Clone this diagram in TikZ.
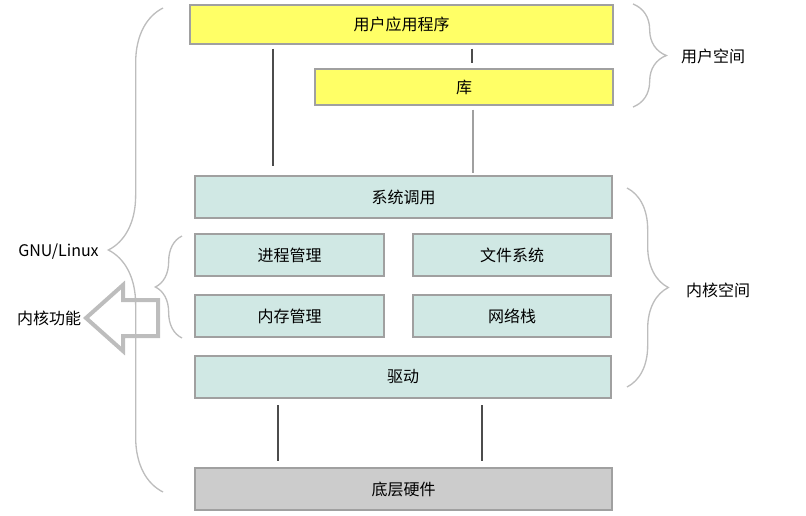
\documentclass[tikz,border=0pt]{standalone}
\usepackage{fontspec}
\setmainfont{Noto Sans CJK SC}
\usepackage{xcolor}
\usetikzlibrary{shapes,arrows,positioning,calc,decorations.pathreplacing}

\definecolor{userfill}{HTML}{FFFF66}
\definecolor{kernfill}{HTML}{D0E8E4}
\definecolor{hwfill}{HTML}{CCCCCC}
\definecolor{boxline}{HTML}{A0A0A0}
\definecolor{bracegray}{HTML}{BDBDBD}

\begin{document}
\begin{tikzpicture}[x=0.75pt, y=-0.75pt,
	every node/.style={font=\fontsize{12}{14}\selectfont},
	layer/.style={rectangle, draw=boxline, line width=0.8pt, inner sep=0pt, minimum height=31.5pt},
	userbox/.style={layer, fill=userfill},
	kernbox/.style={layer, fill=kernfill},
	link/.style={draw=black!70, line width=0.8pt},
	curly/.style={draw=bracegray, line width=1pt, decorate, decoration={brace, amplitude=#1}}]
				\useasboundingbox (0,0) rectangle (806,515);
				\node[userbox, minimum width=317.25pt, minimum height=29.25pt] (app) at (401.5,24.5) {用户应用程序};
				\node[userbox, minimum width=223.5pt, minimum height=27pt] (lib) at (464,87) {库};
				\node[kernbox, minimum width=312.75pt] (sys) at (403.5,197) {系统调用};
				\node[kernbox, minimum width=141.75pt] (proc) at (289.5,255) {进程管理};
				\node[kernbox, minimum width=148.5pt] (fs) at (512,255) {文件系统};
				\node[kernbox, minimum width=141.75pt] (mem) at (289.5,316) {内存管理};
				\node[kernbox, minimum width=148.5pt] (net) at (512,316) {网络栈};
				\node[kernbox, minimum width=312pt] (drv) at (403,377) {驱动};
				\node[layer, fill=hwfill, minimum width=312.75pt] (hw) at (403.5,489) {底层硬件};
				
				\draw[link] ([yshift=-3pt]app.south -| 472,0) -- ([yshift=4pt]lib.north -| 472,0);
				\draw[link] ([yshift=-3pt]app.south -| 273,0) -- ([yshift=7pt]sys.north -| 273,0);
				\draw[draw=boxline, line width=1.5pt] ([yshift=-3pt]lib.south -| 473,0) -- ([yshift=2pt]sys.north -| 473,0);
				\draw[link] ([yshift=-5pt]drv.south -| 278,0) -- ([yshift=5pt]hw.north -| 278,0);
				\draw[link] ([yshift=-5pt]drv.south -| 482,0) -- ([yshift=5pt]hw.north -| 482,0);
				
				\coordinate (gnutop) at (163,8);
				\coordinate (gnubot) at (163,492);
				\coordinate (funtop) at (182,236);
				\coordinate (funbot) at (182,338);
				\coordinate (usrtop) at (633,4);
				\coordinate (usrbot) at (633,107);
				\coordinate (kertop) at (627,188);
				\coordinate (kerbot) at (627,387);
				\draw[curly=41pt] (gnubot) -- (gnutop);
				\draw[curly=20pt] (funbot) -- (funtop);
				\draw[curly=25pt] (usrtop) -- (usrbot);
				\draw[curly=31pt] (kertop) -- (kerbot);
				
				\node (gnu) at (58.5,252) {GNU/Linux};
				\node (func) at (49,318) {内核功能};
				\node (usr) at (713,56) {用户空间};
				\node (ker) at (718,290) {内核空间};
				
				\draw[draw=bracegray, line width=3pt, line join=miter]
					(86,318) -- (123,285) -- (123,300) -- (158,300) -- (158,336) -- (123,336) -- (123,351) -- cycle;
			\end{tikzpicture}
\end{document}
